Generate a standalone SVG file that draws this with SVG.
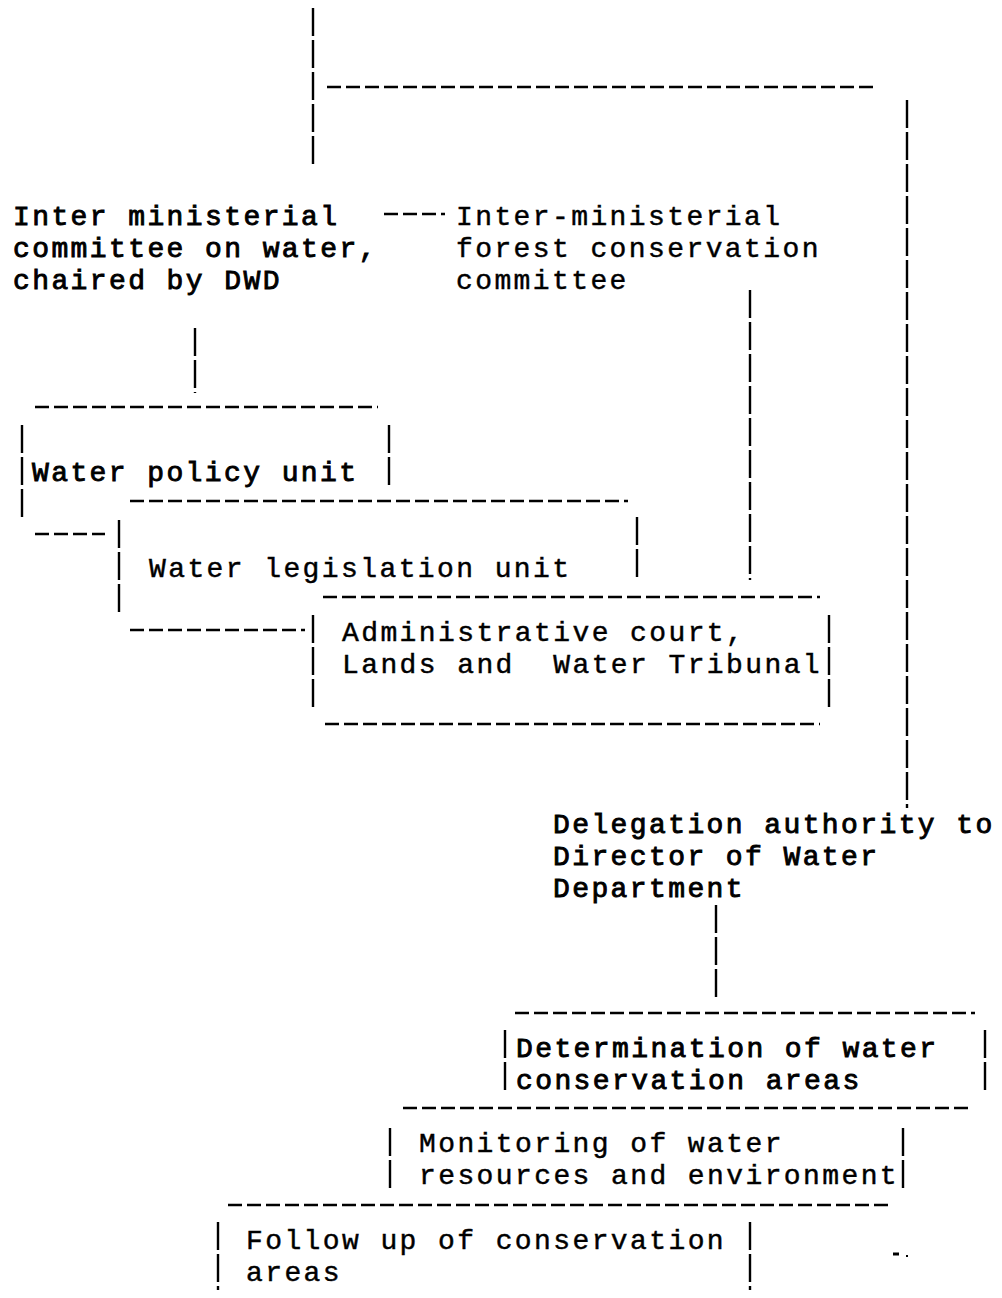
<svg xmlns="http://www.w3.org/2000/svg" width="1002" height="1298" viewBox="0 0 1002 1298">
<style>
.bg{fill:#fff}
.h{stroke:#000;stroke-width:2.6;stroke-dasharray:14 5;fill:none}
.v{stroke:#000;stroke-width:2.4;stroke-dasharray:28 4;fill:none}
.t{font-family:"Liberation Mono","DejaVu Sans Mono",monospace;font-size:28px;letter-spacing:2.4px;fill:#000;stroke:#000;stroke-width:0.45}
.b{stroke-width:0.9}
</style>
<rect class="bg" x="0" y="0" width="1002" height="1298"/>
<g id="connectors">
<line class="v" x1="313" y1="8" x2="313" y2="168"/>
<line class="h" x1="327" y1="87" x2="875" y2="87"/>
<line class="v" x1="907" y1="100" x2="907" y2="808"/>
<line class="h" x1="384" y1="214" x2="445" y2="214"/>
<line class="v" x1="195" y1="328" x2="195" y2="393"/>
<line class="h" x1="35" y1="534" x2="105" y2="534"/>
<line class="v" x1="750" y1="290" x2="750" y2="580"/>
<line class="h" x1="130" y1="630" x2="305" y2="630"/>
<line class="v" x1="716" y1="905" x2="716" y2="997"/>
<line stroke="#000" stroke-width="3" x1="893" y1="1254" x2="899" y2="1254"/>
<line stroke="#000" stroke-width="2" x1="906" y1="1256" x2="908" y2="1256"/>
</g>
<g id="n-imc-water">
<text class="t b" x="13" y="225">Inter ministerial</text>
<text class="t b" x="13" y="257">committee on water,</text>
<text class="t b" x="13" y="289">chaired by DWD</text>
</g>
<g id="n-forest">
<text class="t" x="456" y="225">Inter-ministerial</text>
<text class="t" x="456" y="257">forest conservation</text>
<text class="t" x="456" y="289">committee</text>
</g>
<g id="n-policy">
<line class="h" x1="35" y1="407" x2="378" y2="407"/>
<line class="v" x1="22" y1="425" x2="22" y2="520"/>
<line class="v" x1="389" y1="425" x2="389" y2="488"/>
<text class="t b" x="32" y="481">Water policy unit</text>
</g>
<g id="n-legislation">
<line class="h" x1="130" y1="501" x2="628" y2="501"/>
<line class="v" x1="119" y1="520" x2="119" y2="615"/>
<line class="v" x1="637" y1="517" x2="637" y2="578"/>
<text class="t" x="149" y="577">Water legislation unit</text>
</g>
<g id="n-admin">
<line class="h" x1="323" y1="597" x2="820" y2="597"/>
<line class="v" x1="313" y1="615" x2="313" y2="707"/>
<line class="v" x1="829" y1="615" x2="829" y2="708"/>
<line class="h" x1="325" y1="724" x2="820" y2="724"/>
<text class="t" x="342" y="641">Administrative court,</text>
<text class="t" x="342" y="673" xml:space="preserve">Lands and  Water Tribunal</text>
</g>
<g id="n-delegation">
<text class="t b" x="553" y="833">Delegation authority to</text>
<text class="t b" x="553" y="865">Director of Water</text>
<text class="t b" x="553" y="897">Department</text>
</g>
<g id="n-determination">
<line class="h" x1="515" y1="1013" x2="975" y2="1013"/>
<line class="v" x1="505" y1="1030" x2="505" y2="1093"/>
<line class="v" x1="985" y1="1030" x2="985" y2="1093"/>
<text class="t b" x="516" y="1057">Determination of water</text>
<text class="t b" x="516" y="1089">conservation areas</text>
</g>
<g id="n-monitoring">
<line class="h" x1="403" y1="1108" x2="972" y2="1108"/>
<line class="v" x1="390" y1="1128" x2="390" y2="1190"/>
<line class="v" x1="903" y1="1128" x2="903" y2="1190"/>
<text class="t" x="419" y="1152">Monitoring of water</text>
<text class="t" x="419" y="1184">resources and environment</text>
</g>
<g id="n-follow">
<line class="h" x1="228" y1="1205" x2="893" y2="1205"/>
<line class="v" x1="218" y1="1222" x2="218" y2="1290"/>
<line class="v" x1="750" y1="1222" x2="750" y2="1290"/>
<text class="t" x="246" y="1249">Follow up of conservation</text>
<text class="t" x="246" y="1281">areas</text>
</g>
</svg>
